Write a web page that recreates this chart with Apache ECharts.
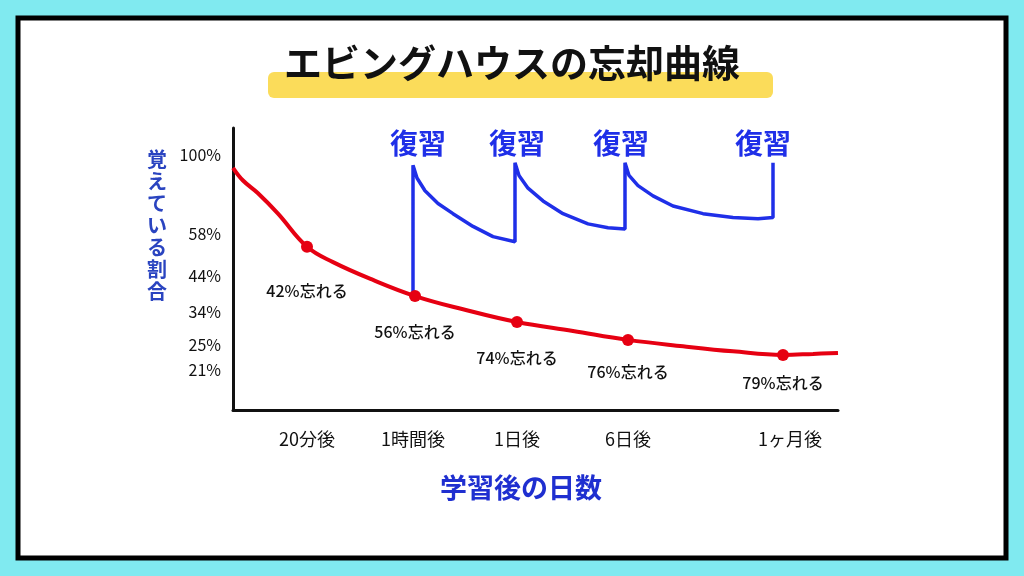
<!DOCTYPE html>
<html><head><meta charset="utf-8">
<script src="https://cdn.jsdelivr.net/npm/echarts@6/dist/echarts.min.js"></script>
<style>html,body{margin:0;padding:0;background:#80eaf0}#c{width:1024px;height:576px}</style>
</head><body><div id="c"></div>
<script>
const yTickValues=[15.7,25.5,38.4,52.5,69,100];
const yTickLabels=['21%','25%','34%','44%','58%','100%'];
const xTickValues=[74,180,284,395,557];
const xTickLabels=['20分後','1時間後','1日後','6日後','1ヶ月後'];
const forgetCurve=[[0,95],[10,90],[25,85],[45,77],[74,64],[100,58],[140,51],[182,44.7],[230,39.5],[284,34.5],[340,31],[395,27.5],[450,25],[500,23],[550,21.6],[580,22],[605,22.4]];
const markPoints=[[74,64],[182,44.7],[284,34.5],[395,27.5],[550,21.6]];
const markLabels=['42%忘れる','56%忘れる','74%忘れる','76%忘れる','79%忘れる'];
const labelDist=[30,22,22,18,14];
const reviewCurve=[[180,44.7],[180,96],[184,91],[192,86],[205,81],[220,77],[240,72],[260,68],[282,66],[282,97],[286,92],[295,87],[310,82],[330,77],[355,73],[375,71.5],[392,71],[392,97],[396,92],[405,88],[420,84],[440,80],[470,77],[500,75.5],[525,75],[540,75.5],[540,97]];
const reviewX=[185,284,388,530];
const chart=echarts.init(document.getElementById('c'));
const F='"Noto Sans CJK JP", sans-serif';
chart.setOption({
 animation:false,
 graphic:[
  {type:'rect',shape:{x:18,y:18,width:988,height:540},style:{fill:'#fff',stroke:'#000',lineWidth:5},z:-10},
  {type:'rect',shape:{x:268,y:72,width:505,height:26,r:6},style:{fill:'#fbdc5a'},z:-5},
  {type:'text',left:'center',top:44,style:{text:'エビングハウスの忘却曲線',font:'bold 38px '+F,fill:'#111'},z:10},
  {type:'text',left:147,top:148,style:{text:'覚\nえ\nて\nい\nる\n割\n合',font:'bold 20px '+F,fill:'#2a44c0',lineHeight:22}},
  {type:'text',left:440,top:474,style:{text:'学習後の日数',font:'bold 27px '+F,fill:'#1f2fd0'}}
 ],
 grid:{left:233,right:186,top:128,bottom:166},
 xAxis:{type:'value',min:0,max:605,splitLine:{show:false},
  axisLine:{show:true,onZero:false,lineStyle:{color:'#111',width:3}},axisTick:{show:false},
  axisLabel:{customValues:xTickValues,formatter:v=>xTickLabels[xTickValues.indexOf(v)],margin:20,color:'#111',fontSize:18,fontFamily:F}},
 yAxis:{type:'value',min:0,max:110.6,splitLine:{show:false},
  axisLine:{show:true,lineStyle:{color:'#111',width:3}},axisTick:{show:false},
  axisLabel:{customValues:yTickValues,formatter:v=>yTickLabels[yTickValues.indexOf(v)],margin:12,color:'#111',fontSize:16,fontFamily:F}},
 series:[
  {type:'line',data:forgetCurve,smooth:0.4,showSymbol:false,lineStyle:{color:'#e60012',width:4},z:3},
  {type:'line',data:reviewCurve,smooth:false,showSymbol:false,lineStyle:{color:'#1f2fe8',width:3.5},z:2},
  {type:'scatter',data:markPoints.map((p,i)=>({value:p,label:{formatter:markLabels[i],distance:labelDist[i]}})),symbolSize:12,itemStyle:{color:'#e60012',opacity:1},z:4,
   label:{show:true,position:'bottom',color:'#111',fontSize:16,fontWeight:500,fontFamily:F}},
  {type:'scatter',data:reviewX.map(x=>[x,104.5]),symbolSize:0,itemStyle:{opacity:1},
   label:{show:true,position:'inside',formatter:'復習',color:'#1f2fe8',fontSize:28,fontWeight:'bold',fontFamily:F}}
 ]
});
</script></body></html>
